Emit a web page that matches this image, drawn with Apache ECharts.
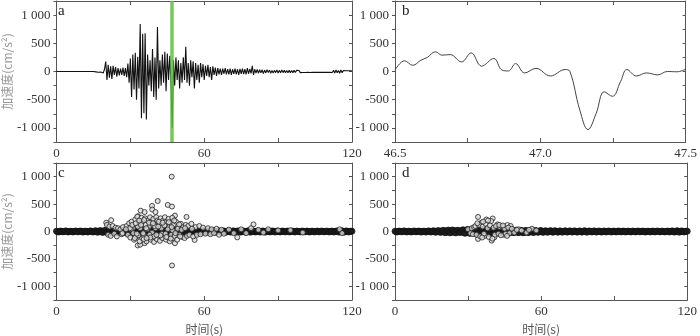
<!DOCTYPE html>
<html>
<head>
<meta charset="utf-8">
<script src="https://cdn.jsdelivr.net/npm/echarts@6/dist/echarts.min.js"></script>
<style>
  html, body { margin: 0; padding: 0; background: #fff; }
  #main { width: 700px; height: 336px; }
</style>
</head>
<body>
<div id="main"></div>
<script>
// panel a: acceleration record, sampled every 0.5 s from 15 s
var waveStart = 15, waveStep = 0.5;
var waveA = [
  0, 8, -6, 10, -12, 15, -10, 20, -25, 40,
  175, -150, 120, -110, 90, -130, 100, -60, 80, -90,
  60, -70, 50, -60, 70, -80, 60, -100, 140, -200,
  230, -450, 300, -320, 330, -500, 260, -300, 840, -830,
  670, -740, 680, -850, 300, -250, 200, -350, 400, -450,
  250, -500, 790, -300, 200, -250, 300, -200, 350, -350,
  320, -150, 280, -200, -1000, 200, -250, 250, -150, 200,
  -300, 150, -200, 250, -150, 440, -200, 150, -250, 200,
  -100, 180, -300, 150, -150, 120, -200, 150, -100, 130,
  -150, 100, -80, 120, -100, 80, -150, 90, -60, 70,
  -80, 60, -50, 50, -60, 50, -40, 60, -50, 40,
  -50, 50, -60, 40, -40, 50, -50, 40, -60, 45,
  -40, 50, -45, 40, -50, 60, -40, 45, -35, 100,
  -60, 40, -30, 35, -30, 30, -25, 30, -35, 25,
  -25, 30, -20, 25, -30, 20, -25, 20, -20, 25,
  -25, 20, -22, 25, -20, 22, -20, 18, -22, 20,
  -20, 18, -20, 20, -18, 20, -15, 18, -20, 15,
  -18, 15, -18, 16, -15, 15, -18, 15, -12, 15,
  -15, 12, -15, 16, -12, 15, -15, 12, -15, 16,
  -15, 12, -16, 15, -18, 22, -28, 28, -22, 18,
  -32, 28, -22, 18, -15, 14, -14, 12, -14, 14,
  8
];
var markTime = 46.9;

// panel b: 46.5 - 47.5 s detail
var zoomTime = [46.5, 46.533, 46.561, 46.589, 46.611, 46.639, 46.662, 46.69, 46.729, 46.762,
  46.798, 46.84, 46.868, 46.89, 46.915, 46.946, 46.985, 47.035, 47.085, 47.102,
  47.136, 47.164, 47.192, 47.22, 47.248, 47.276, 47.298, 47.331, 47.365, 47.404,
  47.437, 47.47, 47.5];
var zoomAccel = [24, 190, 110, 200, 250, 350, 290, 300, 170, 330,
  95, 230, 25, 10, 140, -25, 55, -80, 35, 0,
  -685, -1030, -745, -360, -440, -180, 35, -80, -25, -60,
  0, -5, 40];

// panels c, d: near-zero band, values on whole seconds and on half seconds
var bandValues = [
  5, -8, 6, -4, 9, -7, 3, -6, 8, -5,
  7, -9, 4, -6, 10, -8, 12, -10, 15, -12,
  20, -18, 25, -20, 22, -25, 18, -15, 30, -28,
  35, -30, 32, -34, 38, -30, 35, -32, 30, -36,
  34, -30, 28, -32, 30, -26, 25, -28, 22, -20,
  24, -18, 20, -22, 18, -16, 15, -18, 14, -12,
  16, -14, 12, -10, 14, -12, 10, -12, 9, -10,
  12, -8, 10, -9, 8, -10, 9, -8, 12, -10,
  8, -7, 9, -8, 7, -9, 8, -6, 7, -8,
  6, -7, 8, -6, 7, -5, 6, -7, 5, -6,
  7, -5, 6, -8, 5, -6, 7, -5, 6, -4,
  5, -6, 7, -5, 10, -9, 12, -10, 8, -6,
  5
];
var bandHalfValues = [
  -6, 7, -5, 8, -6, 5, -7, 6, -4, 7,
  -8, 6, -9, 8, -7, 10, -12, 14, -15, 18,
  -22, 20, -24, 26, -20, 22, -18, 25, -30, 32,
  -32, 36, -30, 34, -36, 32, -34, 30, -35, 32,
  -30, 28, -30, 26, -28, 24, -22, 26, -20, 22,
  -20, 18, -22, 16, -18, 15, -14, 16, -12, 14,
  -12, 10, -12, 11, -10, 12, -9, 10, -11, 8,
  -10, 9, -8, 10, -9, 8, -10, 9, -11, 8,
  -7, 8, -9, 7, -8, 6, -7, 8, -6, 7,
  -6, 7, -5, 6, -7, 5, -6, 7, -5, 6,
  -5, 6, -7, 5, -6, 5, -6, 7, -5, 6,
  -6, 5, -8, 7, -9, 10, -11, 9, -7, 6
];

var pointsC = [
  [46.8, 1000], [46.9, -620], [41.1, 556], [45.2, 485], [46.9, 455], [38.8, 467], [38.9, 400],
  [34.2, 380], [35.8, 355], [40.2, 355], [48.1, 290], [52.8, 266], [33.1, 278], [22.2, 207],
  [20.2, 160], [33, -255], [34, -240], [35.8, -213], [48.1, -213], [56.1, -154], [73.4, -107],
  [80, 130], [66, -60],
  [20.5, 120], [21, -60], [21.5, 90], [22, -80], [22.8, 100], [23.5, -40], [24, 70], [24.5, -90],
  [25, 60], [26, 40], [26.5, -50], [27, 80],
  [28.5, 100], [29, -60], [29.5, 150], [30, -110], [30.5, 180], [31, 60], [31.5, -150], [32, 220],
  [32.5, -90], [32.8, 270], [33.5, 150], [33.8, -180], [34, 60], [34.5, 250], [34.8, -120],
  [35, 180], [35.5, -70], [36, 240], [36.2, 120], [36.5, -180], [37, 200], [37.3, -100],
  [37.5, 80], [38, 260], [38.3, -150], [38.5, 170], [39, -60], [39.3, 230], [39.6, -190],
  [40, 120], [40.5, 260], [40.7, -140], [41, 200], [41.5, -80], [41.8, 150], [42, -170],
  [42.3, 240], [42.6, 60], [43, -120], [43.3, 200], [43.6, -60], [44, 260], [44.2, 130],
  [44.5, -150], [44.8, 180], [45, -100], [45.5, 230], [45.8, 90], [46, -180], [46.3, 150],
  [46.6, -60], [47, 250], [47.4, -120], [47.7, 130], [48, -80], [48.5, 180], [49, -150],
  [49.5, 100], [50, -60], [50.5, 140], [51, -100], [51.5, 80], [52, -120], [52.5, 120],
  [53, -80], [53.5, 100], [54, -60], [54.8, 140], [55.5, -90], [56.5, 80], [57, -60],
  [58, 100], [58.5, -50], [59.5, 70], [60.5, -40], [61.5, 60], [62.5, -50], [63, 40],
  [64, -30], [65, 50], [67, 30], [68, -40], [70, 35], [72, -30], [75, 40], [77, -30],
  [79, 60], [82, 30], [84, -20], [86, 40], [90, 20], [95, 25], [100, -20], [115, 40], [116, -30],
  [30.2, 40], [31.2, -30], [33, 90], [35.2, -30], [36.8, 40], [38.8, -20], [40.2, 60],
  [42.8, -40], [45.2, 40], [47.2, 20], [49.2, 50], [50.8, 30], [29.8, 60], [34.3, 120],
  [36.4, 60], [39.8, 100], [41.3, 90], [43.8, 110], [46.8, 80], [37.8, -60], [39.5, -90],
  [42.2, -70], [44.3, -40], [48.3, -30], [33.2, -70], [31.8, -120], [35.4, -140], [38.1, -110],
  [30.8, 120], [32.2, 150], [33.6, 200], [35.6, 210], [37.6, 160], [39.2, 150], [41.6, 180],
  [43.1, 160], [45.6, 170], [47.8, 200], [49.8, 130], [32.6, -40], [36.6, -120], [40.6, -60],
  [44.6, -100], [46.4, -130], [50.2, -90], [28.2, 40], [26.8, -30], [52.2, 60], [55, 50]
];

var pointsD = [
  [34.1, 266], [37.5, 219], [40.1, 237], [39.5, 190], [35.5, 160], [42.1, 130], [46.2, 118],
  [47.5, 100], [34.1, -136], [39.7, -166], [40.8, -107], [37, -77], [44.8, -60], [50.8, 40],
  [56.2, 50],
  [30, 40], [31, -30], [31.5, 60], [32, -50], [32.5, 80], [33, 100], [33.5, -60], [34.5, 120],
  [35, -90], [36, 90], [36.5, -40], [37.2, 140], [38, 60], [38.5, -100], [39, 110], [40.5, 70],
  [41, -60], [41.5, 100], [42.5, -40], [43, 80], [43.5, -70], [44, 90], [45, 50], [45.5, -40],
  [46.5, 70], [47, -30], [48, 50], [49, -20], [50, 30], [52, 20], [54, -20], [55, 30], [58, 20],
  [36.2, 180], [38.2, 200], [35.8, -110], [33.8, 150], [40, -130], [42.8, 120], [44.3, 110], [46, -80]
];

var panelNames = ['a', 'b', 'c', 'd'];
var yName = '加速度(cm/s²)';
var xName = '时间(s)';

var serif = '"Liberation Serif", "Times New Roman", serif';
var axisColor = '#555';

var dataA = [[0, 0]].concat(waveA.map(function (v, i) { return [waveStart + i * waveStep, v]; }));
var dataB = zoomTime.map(function (t, i) { return [t, zoomAccel[i]]; });
var bandData = bandValues.map(function (v, i) { return [i, v]; })
  .concat(bandHalfValues.map(function (v, i) { return [i + 0.5, v]; }));

var grids = [
  { left: 51, top: 1, width: 301, height: 141 },
  { left: 395, top: 1, width: 299, height: 141 },
  { left: 51, top: 163, width: 301, height: 142 },
  { left: 395, top: 163, width: 299, height: 142 }
];

function fmtY(v) {
  if (v % 500 !== 0) return '';
  var s = String(Math.abs(v)).replace(/\B(?=(\d{3})+(?!\d))/g, ' ');
  return (v < 0 ? '-' : '') + s;
}

var xAxes = [], yAxes = [];
grids.forEach(function (g, i) {
  var isB = i === 1;
  var xBase = {
    gridIndex: i, type: 'value',
    min: isB ? 46.5 : 0, max: isB ? 47.5 : 120, interval: isB ? 0.25 : 30,
    splitLine: { show: false },
    axisLine: { onZero: false, lineStyle: { color: axisColor, width: 1 } },
    axisTick: { inside: true, length: 4, lineStyle: { color: axisColor } }
  };
  xAxes.push(Object.assign({}, xBase, {
    position: 'bottom',
    name: i >= 2 ? xName : '',
    nameLocation: 'middle', nameGap: 23,
    nameTextStyle: { color: '#555', fontSize: 12, fontFamily: 'Noto Sans CJK SC' },
    axisLabel: {
      color: '#333', fontSize: 13, fontFamily: serif, margin: 5,
      formatter: function (v) {
        if (isB) return Math.abs(v * 2 - Math.round(v * 2)) < 1e-6 ? v.toFixed(1) : '';
        return v % 60 === 0 ? String(v) : '';
      }
    }
  }));
  xAxes.push(Object.assign({}, xBase, { position: 'top', axisLabel: { show: false } }));

  var yBase = {
    gridIndex: i, type: 'value', min: -1250, max: 1250, interval: 250,
    splitLine: { show: false },
    axisLine: { onZero: false, lineStyle: { color: axisColor, width: 1 } }
  };
  yAxes.push(Object.assign({}, yBase, {
    position: 'left',
    name: (i === 0 || i === 2) ? yName : '',
    nameLocation: 'middle', nameGap: 37,
    nameTextStyle: { color: '#999', fontSize: 12, fontFamily: 'Noto Sans CJK SC' },
    axisTick: { inside: false, length: 3, lineStyle: { color: axisColor } },
    axisLabel: { color: '#333', fontSize: 13, fontFamily: serif, margin: 6, formatter: fmtY }
  }));
  yAxes.push(Object.assign({}, yBase, {
    position: 'right',
    axisTick: { inside: true, length: 3, lineStyle: { color: axisColor } },
    axisLabel: { show: false }
  }));
});

var pointStyle = { color: '#dcdcdc', borderColor: '#222', borderWidth: 1 };
var bandStyle = { color: '#1a1a1a', borderColor: '#111', borderWidth: 1 };

var option = {
  animation: false,
  backgroundColor: '#fff',
  grid: grids,
  xAxis: xAxes,
  yAxis: yAxes,
  graphic: panelNames.map(function (n, i) {
    return {
      type: 'text', left: grids[i].left + 7, top: grids[i].top + 3,
      style: { text: n, fontSize: 15, fontFamily: serif, fill: '#222' }
    };
  }),
  series: [
    {
      type: 'line', xAxisIndex: 0, yAxisIndex: 0, data: dataA,
      showSymbol: false, sampling: null,
      lineStyle: { color: '#111', width: 1.1 }
    },
    {
      type: 'line', xAxisIndex: 0, yAxisIndex: 0,
      data: [[markTime, -1250], [markTime, 1250]],
      showSymbol: false, z: 5,
      lineStyle: { color: '#5cbf3a', width: 3.5, opacity: 0.85 }
    },
    {
      type: 'line', xAxisIndex: 2, yAxisIndex: 2, data: dataB,
      showSymbol: false, smooth: 0.4,
      lineStyle: { color: '#444', width: 1 }
    },
    {
      type: 'scatter', xAxisIndex: 4, yAxisIndex: 4, data: bandData,
      symbolSize: 6, itemStyle: bandStyle
    },
    {
      type: 'scatter', xAxisIndex: 4, yAxisIndex: 4, data: pointsC,
      symbolSize: 5, itemStyle: pointStyle
    },
    {
      type: 'scatter', xAxisIndex: 6, yAxisIndex: 6, data: bandData,
      symbolSize: 6, itemStyle: bandStyle
    },
    {
      type: 'scatter', xAxisIndex: 6, yAxisIndex: 6, data: pointsD,
      symbolSize: 5, itemStyle: pointStyle
    }
  ]
};

var myChart = echarts.init(document.getElementById('main'));
myChart.setOption(option, true);
</script>
</body>
</html>
